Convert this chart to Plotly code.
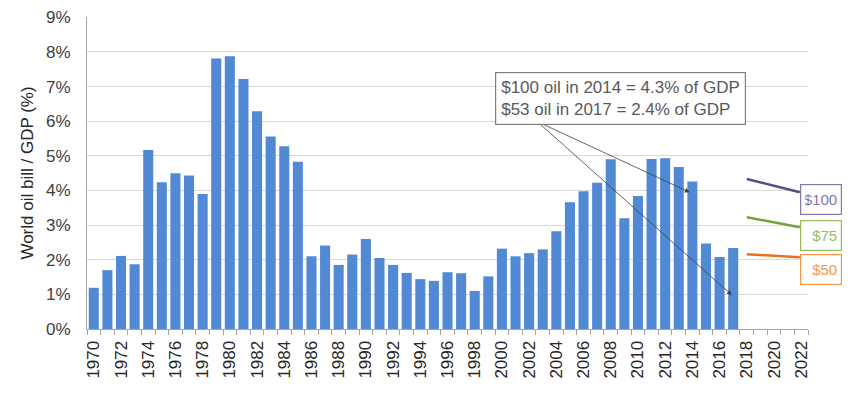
import plotly.graph_objects as go

years = list(range(1970, 2018))
oil_share = [1.19, 1.70, 2.11, 1.87, 5.17, 4.24, 4.50, 4.43, 3.90, 7.81,
             7.88, 7.22, 6.29, 5.56, 5.28, 4.83, 2.10, 2.41, 1.85, 2.15,
             2.60, 2.05, 1.85, 1.62, 1.44, 1.39, 1.64, 1.61, 1.10, 1.52,
             2.32, 2.10, 2.19, 2.30, 2.82, 3.66, 3.98, 4.22, 4.90, 3.20,
             3.84, 4.91, 4.93, 4.68, 4.26, 2.47, 2.08, 2.34]

tick_years = list(range(1970, 2023, 2))
y_ticks = [0, 1, 2, 3, 4, 5, 6, 7, 8, 9]
y_ticklabels = [f"{v}%" for v in y_ticks]

price_labels = ["$100", "$75", "$50"]
price_start_year = [2018, 2018, 2018]
price_start_val = [4.33, 3.23, 2.16]
price_end_year = [2021.9, 2021.9, 2021.9]
price_end_val = [3.95, 2.94, 2.07]
price_box_top = [4.18, 3.14, 2.16]
price_line_colors = ["#5b4a86", "#77a03c", "#e8711c"]
price_box_colors = ["#8677a8", "#9bbb59", "#f79646"]

note_lines = ["$100 oil in 2014 = 4.3% of GDP", "$53 oil in 2017 = 2.4% of GDP"]
arrow_tail = (2002.6, 5.99)
arrow_heads_x = [2013.8, 2016.9]
arrow_heads_y = [3.95, 0.98]

FONT = "Liberation Sans"

fig = go.Figure()
fig.add_trace(go.Bar(x=years, y=oil_share, marker=dict(color="#5289d5", line_width=0),
                     showlegend=False))

for i in range(len(price_labels)):
    fig.add_trace(go.Scatter(
        x=[price_start_year[i], price_end_year[i]],
        y=[price_start_val[i], price_end_val[i]],
        mode="lines", line=dict(color=price_line_colors[i], width=2.5),
        showlegend=False, cliponaxis=False))
    fig.add_annotation(
        x=price_end_year[i], y=price_box_top[i], xref="x", yref="y",
        text=price_labels[i], showarrow=False, xanchor="left", yanchor="top",
        xshift=0, font=dict(family=FONT, size=15, color=price_box_colors[i]),
        bordercolor=price_box_colors[i], borderwidth=1.2, borderpad=4,
        bgcolor="white", align="right", width=32, height=21)

for hx, hy in zip(arrow_heads_x, arrow_heads_y):
    fig.add_annotation(
        x=hx, y=hy, xref="x", yref="y", ax=arrow_tail[0], ay=arrow_tail[1],
        axref="x", ayref="y", text="", showarrow=True, arrowhead=2,
        arrowsize=1.2, arrowwidth=0.8, arrowcolor="#404040")

fig.add_annotation(
    x=1999.5, y=7.43, xref="x", yref="y", xanchor="left", yanchor="top",
    text="<br>".join(note_lines), showarrow=False, align="left",
    font=dict(family=FONT, size=17, color="#595959"),
    bordercolor="#7f7f7f", borderwidth=1.2, borderpad=5, bgcolor="white")

fig.update_layout(
    width=842, height=383,
    margin=dict(l=79, r=42, t=9, b=62),
    plot_bgcolor="white", paper_bgcolor="white",
    bargap=0.26,
    font=dict(family=FONT, color="#404040"),
    xaxis=dict(
        range=[1969.5, 2022.5], tickmode="array", tickvals=tick_years,
        ticktext=[str(y) for y in tick_years], tickangle=-90, automargin=False,
        tickfont=dict(family=FONT, size=17, color="#262626"),
        ticklabelstandoff=4, ticklabeloverflow="allow",
        ticks="", showgrid=False, showline=True, linecolor="#a6a6a6", linewidth=1,
        minor=dict(tickmode="linear", tick0=1969.5, dtick=1, ticks="outside",
                   ticklen=5, tickcolor="#a6a6a6", showgrid=False),
        zeroline=False),
    yaxis=dict(
        range=[0, 9.01], tickmode="array", tickvals=y_ticks, ticktext=y_ticklabels,
        automargin=False, ticklabelstandoff=12, ticklabeloverflow="allow",
        tickfont=dict(family=FONT, size=17, color="#404040"),
        showgrid=True, gridcolor="#d9d9d9", gridwidth=1,
        showline=True, linecolor="#a6a6a6", linewidth=1, zeroline=False,
        ticks="", title=dict(text="World oil bill / GDP (%)",
                             font=dict(family=FONT, size=17, color="#262626"),
                             standoff=8)),
)

fig.write_html("out.html")
